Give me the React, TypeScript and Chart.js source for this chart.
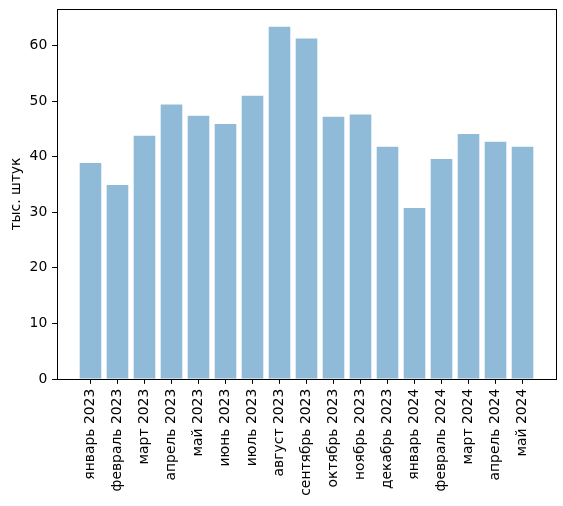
import React, { useEffect, useRef } from "react";
import { Chart, registerables } from "chart.js";

Chart.register(...registerables);

const months: string[] = [
  "январь 2023", "февраль 2023", "март 2023", "апрель 2023", "май 2023",
  "июнь 2023", "июль 2023", "август 2023", "сентябрь 2023", "октябрь 2023",
  "ноябрь 2023", "декабрь 2023", "январь 2024", "февраль 2024", "март 2024",
  "апрель 2024", "май 2024",
];
const values: number[] = [
  38.9, 34.9, 43.8, 49.4, 47.4, 45.9, 51.0, 63.4, 61.3, 47.2, 47.6, 41.8,
  30.8, 39.6, 44.1, 42.7, 41.8,
];
const yTicks: number[] = [0, 10, 20, 30, 40, 50, 60];
const yLabel = "тыс. штук";

const FONT = "'DejaVu Sans', sans-serif";
const FS = 13.9;
const TL = 4.86;

const framePlugin = {
  id: "frame",
  afterDraw(chart: any) {
    const { ctx, chartArea } = chart;
    ctx.save();
    ctx.strokeStyle = "#000";
    ctx.lineWidth = 1;
    ctx.strokeRect(
      Math.round(chartArea.left) + 0.5,
      Math.round(chartArea.top) + 0.5,
      Math.round(chartArea.right - chartArea.left),
      Math.round(chartArea.bottom - chartArea.top)
    );
    ctx.restore();
  },
};

export default function App() {
  const ref = useRef<HTMLCanvasElement | null>(null);
  useEffect(() => {
    if (!ref.current) return;
    const n = months.length;
    const margin = (n - 1 + 0.8) * 0.05;
    const chart = new Chart(ref.current, {
      type: "bar",
      data: {
        datasets: [
          {
            data: values.map((v, i) => ({ x: i, y: v })),
            backgroundColor: "rgba(31,119,180,0.5)",
            borderWidth: 0,
            categoryPercentage: 1,
            barPercentage: 0.8,
          },
        ],
      },
      options: {
        animation: false,
        responsive: false,
        devicePixelRatio: 1,
        layout: { padding: { top: 9, right: 7, left: 0, bottom: 0 } },
        plugins: { legend: { display: false }, tooltip: { enabled: false } },
        scales: {
          x: {
            type: "linear",
            offset: false,
            min: -0.4 - margin,
            max: n - 1 + 0.4 + margin,
            grid: { offset: false, drawOnChartArea: false, tickLength: TL, color: "#000", tickColor: "#000" },
            border: { display: false },
            afterBuildTicks: (s: any) => {
              s.ticks = months.map((_, i) => ({ value: i }));
            },
            afterFit: (s: any) => {
              s.height = 127;
              s.paddingLeft = 0;
              s.paddingRight = 0;
            },
            ticks: {
              autoSkip: false,
              minRotation: 90,
              maxRotation: 90,
              padding: TL,
              color: "#000",
              font: { family: FONT, size: FS },
              callback: (v: any) => months[Math.round(Number(v))] ?? "",
            },
          },
          y: {
            min: 0,
            max: 66.6,
            grid: { drawOnChartArea: false, tickLength: TL, color: "#000", tickColor: "#000" },
            border: { display: false },
            afterBuildTicks: (s: any) => {
              s.ticks = yTicks.map((v) => ({ value: v }));
            },
            afterFit: (s: any) => {
              s.width = 57;
              s.paddingTop = 0;
              s.paddingBottom = 0;
            },
            title: {
              display: true,
              text: yLabel,
              color: "#000",
              font: { family: FONT, size: FS },
              padding: { top: 8, bottom: 0 },
            },
            ticks: {
              padding: TL,
              color: "#000",
              font: { family: FONT, size: FS },
            },
          },
        },
      },
      plugins: [framePlugin],
    });
    return () => chart.destroy();
  }, []);
  return (
    <div style={{ position: "absolute", left: 0, top: 0, width: 563, height: 506, background: "#fff" }}>
      <canvas ref={ref} width={563} height={506} style={{ width: 563, height: 506 }} />
    </div>
  );
}
